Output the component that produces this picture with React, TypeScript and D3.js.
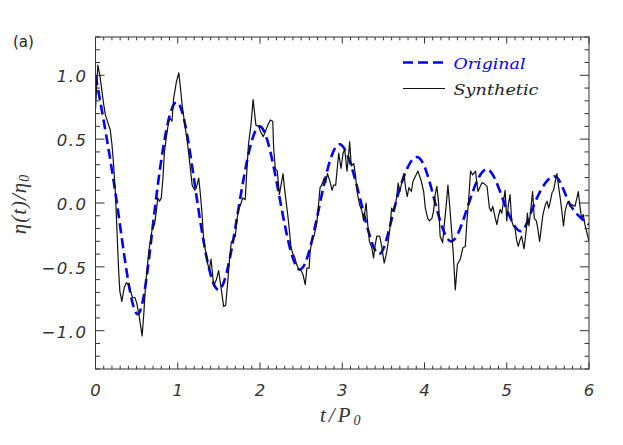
import React from "react";
import * as d3 from "d3";

// Original (dashed) curve: extrema and zero crossings
const origT = [0, 0.26, 0.51, 0.73, 0.99, 1.24, 1.5, 1.75, 2.0, 2.25, 2.49, 2.73, 2.97, 3.23, 3.45, 3.65, 3.91, 4.13, 4.33, 4.54, 4.76, 4.97, 5.17, 5.34, 5.58, 5.76, 6.0];
const origV = [1.0, 0, -0.87, 0, 0.79, 0, -0.68, 0, 0.6, 0, -0.52, 0, 0.46, 0, -0.4, 0, 0.36, 0, -0.3, 0, 0.265, 0, -0.22, 0, 0.21, 0, -0.17];

// Synthetic (solid) curve
const synthT = [0, 0.028, 0.053, 0.1, 0.12, 0.16, 0.18, 0.2, 0.22, 0.243, 0.26, 0.28, 0.296, 0.32, 0.35, 0.376, 0.405, 0.425, 0.45, 0.478, 0.5, 0.527, 0.567, 0.587, 0.607, 0.628, 0.648, 0.668, 0.69, 0.717, 0.74, 0.757, 0.778, 0.8, 0.82, 0.838, 0.86, 0.89, 0.91, 0.93, 0.95, 0.984, 1.013, 1.033, 1.053, 1.08, 1.11, 1.14, 1.175, 1.207, 1.227, 1.255, 1.276, 1.296, 1.316, 1.345, 1.365, 1.385, 1.405, 1.437, 1.47, 1.497, 1.53, 1.558, 1.583, 1.607, 1.63, 1.65, 1.68, 1.7, 1.72, 1.74, 1.76, 1.79, 1.82, 1.84, 1.86, 1.89, 1.916, 1.95, 1.985, 2.005, 2.04, 2.066, 2.095, 2.126, 2.155, 2.166, 2.186, 2.21, 2.236, 2.256, 2.28, 2.297, 2.317, 2.337, 2.358, 2.378, 2.4, 2.42, 2.445, 2.47, 2.5, 2.523, 2.55, 2.57, 2.597, 2.61, 2.63, 2.66, 2.69, 2.705, 2.73, 2.75, 2.78, 2.8, 2.82, 2.85, 2.876, 2.895, 2.92, 2.957, 2.985, 3.01, 3.03, 3.058, 3.08, 3.09, 3.11, 3.14, 3.16, 3.18, 3.21, 3.24, 3.26, 3.29, 3.31, 3.33, 3.36, 3.38, 3.4, 3.42, 3.455, 3.48, 3.51, 3.536, 3.56, 3.58, 3.6, 3.62, 3.65, 3.66, 3.68, 3.7, 3.73, 3.75, 3.77, 3.79, 3.81, 3.84, 3.86, 3.89, 3.92, 3.957, 3.99, 4.01, 4.04, 4.06, 4.09, 4.11, 4.13, 4.15, 4.17, 4.19, 4.22, 4.245, 4.265, 4.285, 4.305, 4.33, 4.35, 4.374, 4.4, 4.435, 4.467, 4.496, 4.516, 4.536, 4.56, 4.585, 4.62, 4.65, 4.67, 4.7, 4.727, 4.76, 4.79, 4.81, 4.83, 4.85, 4.88, 4.9, 4.92, 4.94, 4.96, 4.98, 5.0, 5.02, 5.04, 5.06, 5.08, 5.1, 5.12, 5.14, 5.16, 5.18, 5.21, 5.24, 5.25, 5.27, 5.294, 5.314, 5.335, 5.36, 5.376, 5.4, 5.42, 5.44, 5.47, 5.49, 5.51, 5.53, 5.55, 5.57, 5.59, 5.61, 5.63, 5.65, 5.67, 5.69, 5.71, 5.73, 5.75, 5.77, 5.79, 5.83, 5.87, 5.89, 5.91, 5.93, 5.95, 5.97, 6.0];
const synthV = [0.73, 1.08, 1.0, 0.77, 0.69, 0.61, 0.57, 0.46, 0.3, 0.065, -0.2, -0.51, -0.69, -0.77, -0.66, -0.625, -0.64, -0.69, -0.74, -0.74, -0.78, -0.87, -1.04, -0.87, -0.66, -0.51, -0.38, -0.29, -0.2, -0.17, -0.065, 0.04, 0.013, 0.04, 0.195, 0.4, 0.51, 0.64, 0.66, 0.64, 0.82, 0.95, 1.02, 0.9, 0.77, 0.64, 0.51, 0.35, 0.14, 0.1, 0.12, 0.195, 0.065, -0.09, -0.3, -0.4, -0.48, -0.52, -0.44, -0.65, -0.6, -0.53, -0.68, -0.81, -0.8, -0.625, -0.44, -0.31, -0.28, -0.26, -0.13, -0.05, -0.02, 0.04, 0.026, 0.25, 0.46, 0.61, 0.81, 0.61, 0.6, 0.56, 0.52, 0.56, 0.61, 0.65, 0.64, 0.43, 0.27, 0.25, 0.065, 0.14, 0.23, 0.12, 0.013, -0.09, -0.22, -0.35, -0.4, -0.42, -0.48, -0.52, -0.53, -0.56, -0.64, -0.51, -0.51, -0.38, -0.3, -0.25, -0.16, -0.065, 0.12, 0.14, 0.195, 0.16, 0.23, 0.17, 0.1, 0.14, 0.14, 0.39, 0.27, 0.39, 0.42, 0.25, 0.4, 0.48, 0.29, 0.31, 0.22, 0.09, -0.013, -0.065, -0.14, 0.0, -0.17, -0.3, -0.35, -0.43, -0.33, -0.26, -0.26, -0.34, -0.47, -0.4, -0.3, -0.195, -0.04, -0.065, 0.0, 0.04, 0.156, 0.09, 0.18, 0.23, 0.12, 0.05, 0.12, 0.09, 0.17, 0.21, 0.25, 0.18, 0.09, -0.04, -0.12, -0.14, -0.12, -0.065, 0.065, 0.13, 0.013, -0.26, -0.31, -0.14, -0.013, 0.14, -0.013, -0.22, -0.4, -0.68, -0.48, -0.44, -0.35, -0.34, -0.14, 0.013, 0.25, 0.22, 0.25, 0.09, 0.12, 0.16, 0.15, 0.13, -0.04, -0.065, -0.026, -0.09, -0.17, -0.1, -0.05, -0.08, 0.013, 0.1, -0.14, -0.013, 0.065, -0.14, -0.18, -0.195, -0.29, -0.34, -0.29, -0.26, -0.36, -0.195, -0.08, -0.18, -0.04, 0.09, -0.12, -0.14, -0.195, -0.3, -0.195, -0.09, -0.013, 0.013, -0.04, 0.013, 0.08, 0.1, 0.17, 0.23, 0.13, 0.04, -0.065, -0.18, -0.065, -0.013, 0.013, -0.026, -0.013, -0.026, 0.09, -0.026, -0.12, -0.09, -0.17, -0.22, -0.3];

const xTicks = [0, 1, 2, 3, 4, 5, 6];
const xTickLabels = ["0", "1", "2", "3", "4", "5", "6"];
const yTicks = [-1.0, -0.5, 0.0, 0.5, 1.0];
const yTickLabels = ["\u22121.0", "\u22120.5", "0.0", "0.5", "1.0"];
const legendLabels = ["Original", "Synthetic"];

const W = 623, H = 445;
const L = 95.5, R = 589, T = 37, B = 369;

export default function App() {
  const x = d3.scaleLinear().domain([0, 6]).range([L, R]);
  const y = d3.scaleLinear().domain([-1.3, 1.3]).range([B, T]);

  const origLine = d3.line<number>().x((_, i) => x(origT[i])).y((v) => y(v)).curve(d3.curveNatural);
  const synthLine = d3.line<number>().x((_, i) => x(synthT[i])).y((v) => y(v));

  const xMinor = d3.range(0, 61).map((i) => i / 10);
  const yMinor = d3.range(-13, 14).map((i) => i / 10);
  const axisColor = "#333";
  const tickFont = "'DejaVu Sans', sans-serif";

  const xMajLen = 6.6, xMinLen = 3.3, yMajLen = 9, yMinLen = 4.5;

  return (
    <svg width={W} height={H} style={{ position: "absolute", left: 0, top: 0, background: "#fff" }}>
      <defs>
        <clipPath id="plotclip">
          <rect x={L} y={T} width={R - L} height={B - T} />
        </clipPath>
      </defs>
      <g clipPath="url(#plotclip)">
        <path d={origLine(origV) || ""} fill="none" stroke="#0000ff" strokeWidth={2.6} strokeDasharray="10,5" />
        <path d={synthLine(synthV) || ""} fill="none" stroke="#111" strokeWidth={1.2} strokeLinejoin="round" />
      </g>
      <rect x={L} y={T} width={R - L} height={B - T} fill="none" stroke={axisColor} strokeWidth={1} />
      {xMinor.map((t, i) => {
        const major = i % 10 === 0;
        const len = major ? xMajLen : xMinLen;
        return (
          <g key={"xt" + i} stroke={axisColor} strokeWidth={1}>
            <line x1={x(t)} x2={x(t)} y1={B} y2={B - len} />
            <line x1={x(t)} x2={x(t)} y1={T} y2={T + len} />
          </g>
        );
      })}
      {yMinor.map((v, i) => {
        const major = Math.round(v * 10) % 5 === 0;
        const len = major ? yMajLen : yMinLen;
        return (
          <g key={"yt" + i} stroke={axisColor} strokeWidth={1}>
            <line x1={L} x2={L + len} y1={y(v)} y2={y(v)} />
            <line x1={R} x2={R - len} y1={y(v)} y2={y(v)} />
          </g>
        );
      })}
      {xTicks.map((t, i) => (
        <text key={"xl" + i} x={x(t)} y={395.5} textAnchor="middle" fontFamily={tickFont} fontStyle="italic" fontSize={16.5} fill="#333" fontWeight={300}>
          {xTickLabels[i]}
        </text>
      ))}
      {yTicks.map((v, i) => (
        <text key={"yl" + i} x={87.5} y={y(v) + 7} textAnchor="end" fontFamily={tickFont} fontStyle="italic" fontSize={16.5} fill="#333" fontWeight={300} letterSpacing={1.5}>
          {yTickLabels[i]}
        </text>
      ))}
      <text x={320} y={421.5} fontFamily="'Liberation Serif', serif" fontStyle="italic" fontSize={21} fill="#333" letterSpacing={3}>
        t/P<tspan fontSize={14} dy={3} letterSpacing={0}>0</tspan>
      </text>
      <text transform="translate(26,204) rotate(-90)" textAnchor="middle" fontFamily="'Liberation Serif', serif" fontStyle="italic" fontSize={21} fill="#333" letterSpacing={1}>
        η(t)/η<tspan fontSize={14} dy={3}>0</tspan>
      </text>
      <text x={13} y={47} fontFamily="'DejaVu Sans', sans-serif" fontSize={15} fill="#222">(a)</text>
      <line x1={403} x2={445} y1={62.5} y2={62.5} stroke="#0000ff" strokeWidth={2.6} strokeDasharray="10,5" />
      <text x={453.5} y={68.5} fontFamily="'DejaVu Serif', serif" fontStyle="italic" fontSize={15} fill="#0000ff" textLength={72} lengthAdjust="spacingAndGlyphs">
        {legendLabels[0]}
      </text>
      <line x1={403} x2={445} y1={88.5} y2={88.5} stroke="#111" strokeWidth={1.2} />
      <text x={453.5} y={94.5} fontFamily="'DejaVu Serif', serif" fontStyle="italic" fontSize={15} fill="#222" textLength={85} lengthAdjust="spacingAndGlyphs">
        {legendLabels[1]}
      </text>
    </svg>
  );
}
